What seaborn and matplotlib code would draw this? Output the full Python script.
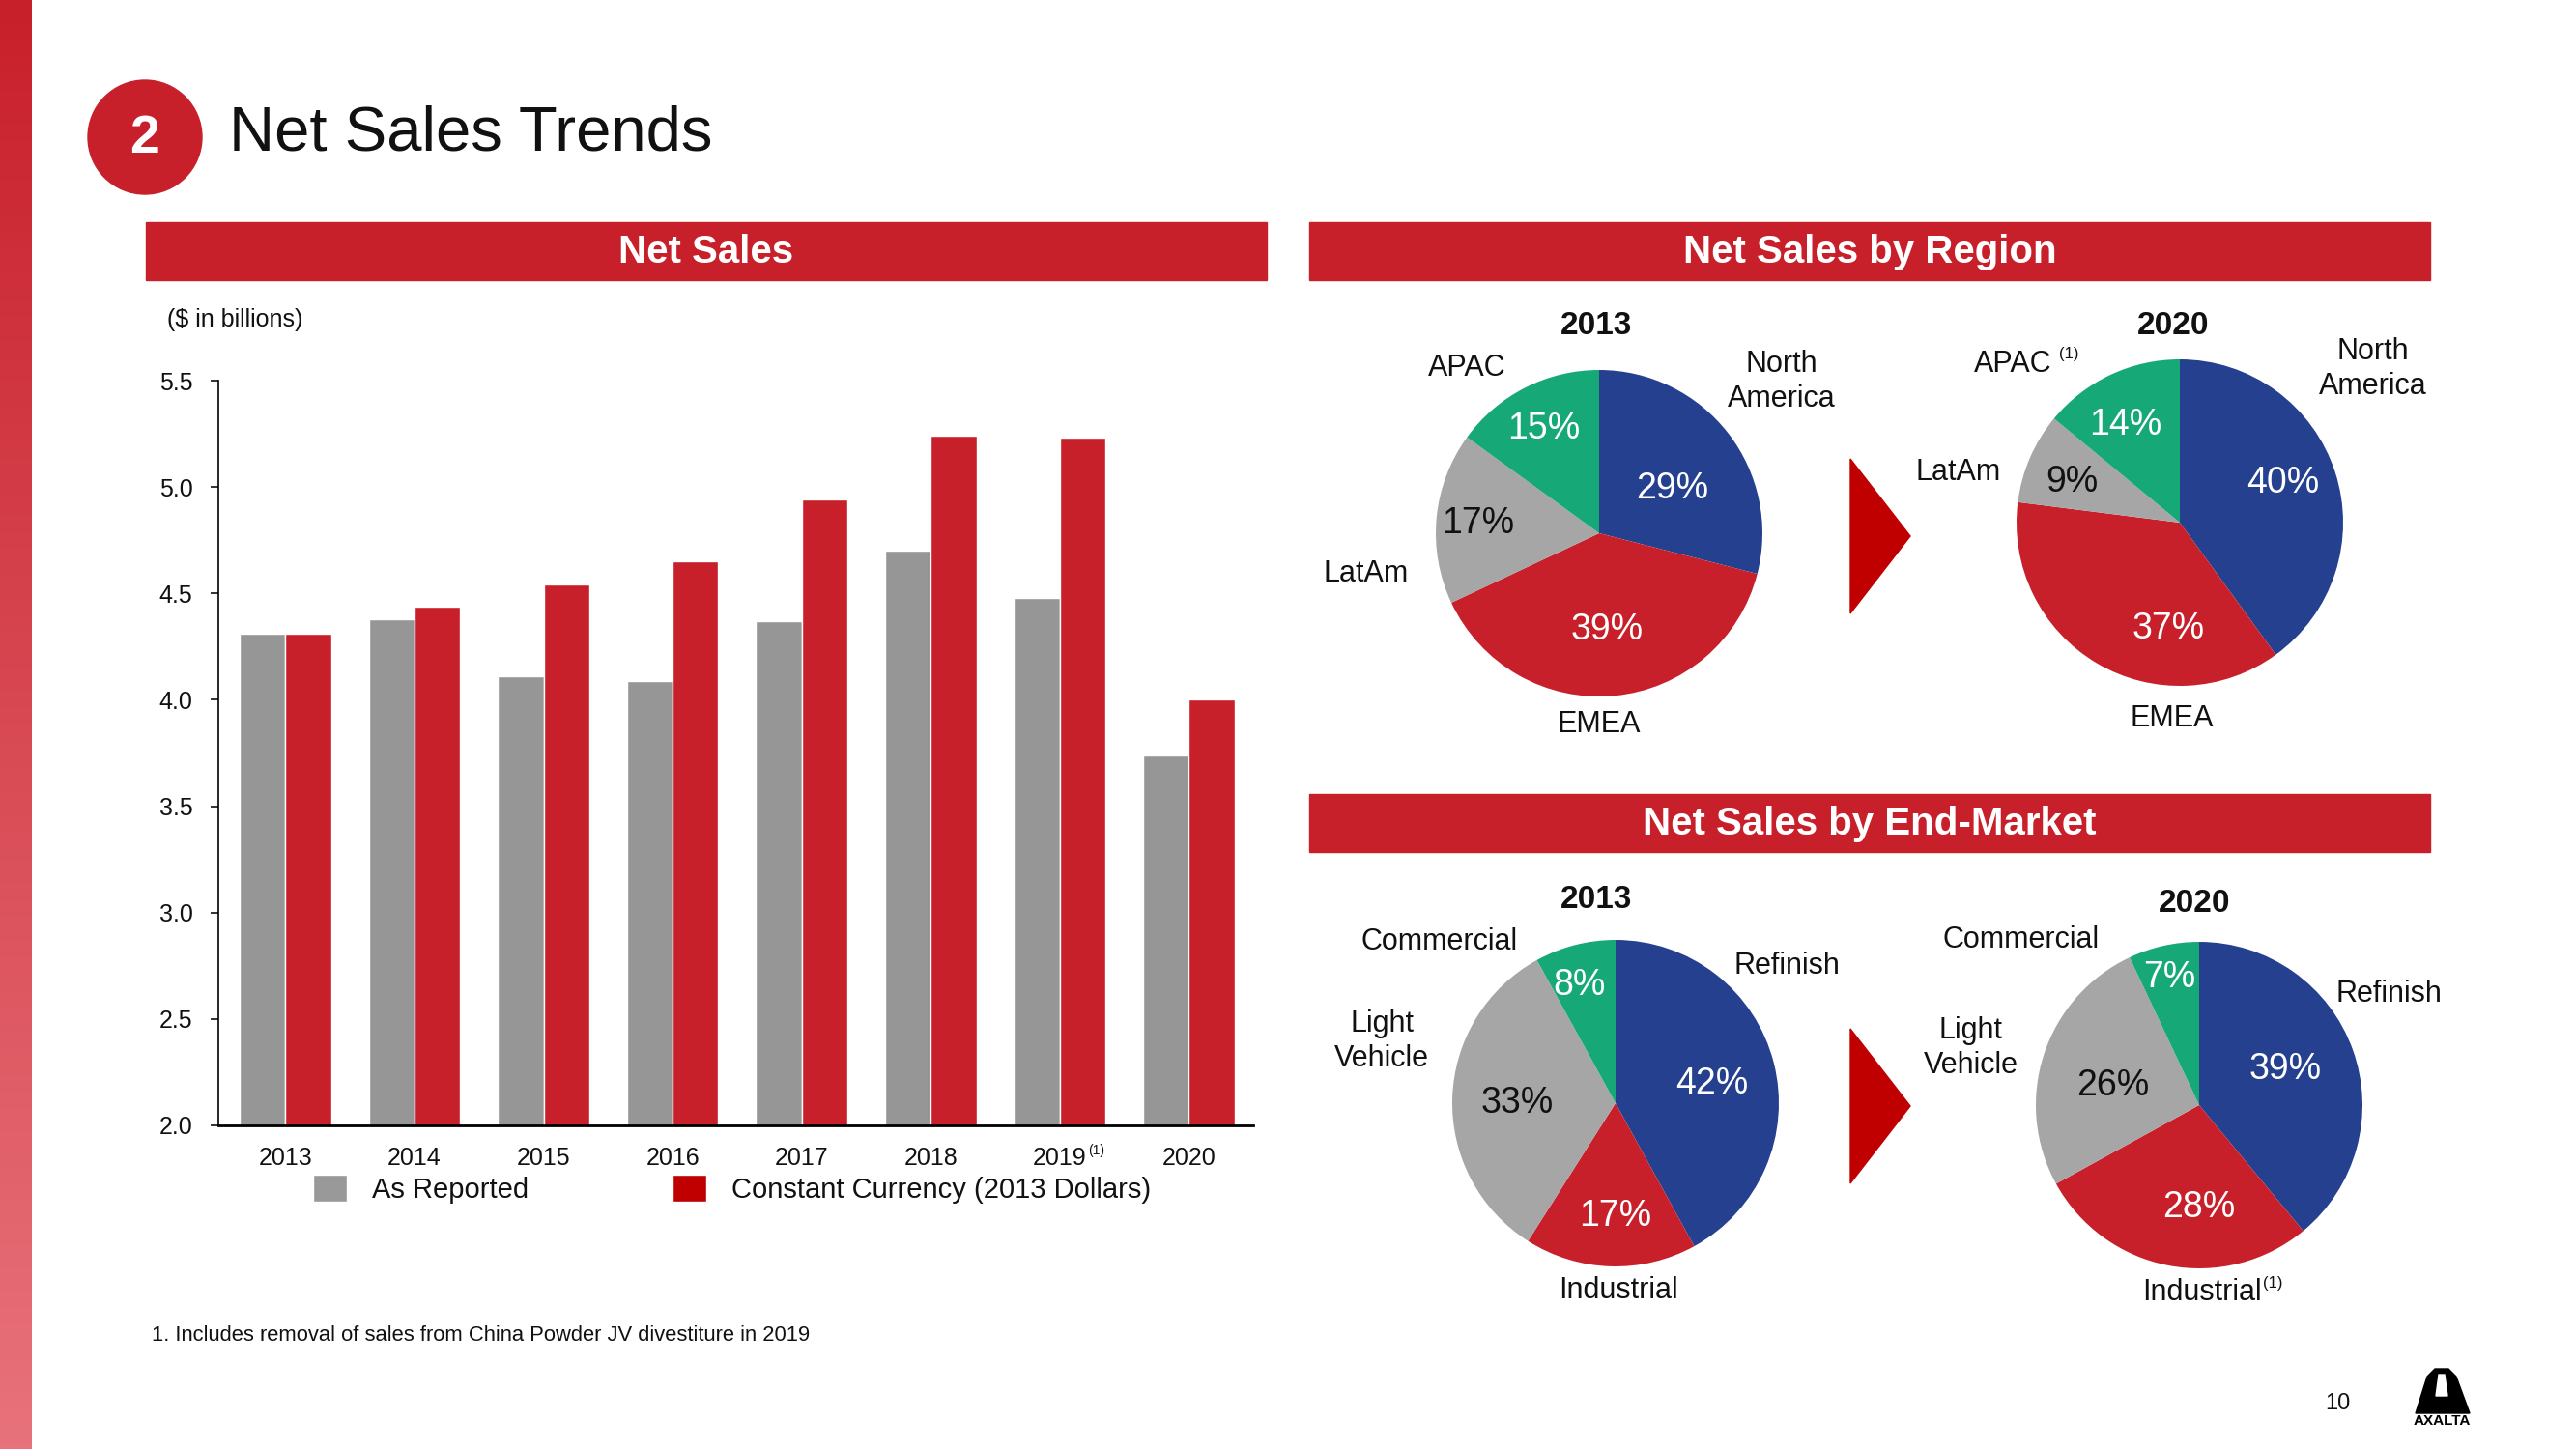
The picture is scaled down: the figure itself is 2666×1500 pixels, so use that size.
import numpy as np
import pandas as pd
import matplotlib
matplotlib.use('Agg')
import matplotlib.pyplot as plt
import seaborn as sns
from matplotlib.patches import Polygon, Circle, Rectangle, Patch
from matplotlib.colors import LinearSegmentedColormap

# ---- data ----
years = ['2013', '2014', '2015', '2016', '2017', '2018', '2019', '2020']
as_reported = [4.31, 4.38, 4.11, 4.09, 4.37, 4.70, 4.48, 3.74]
constant_currency = [4.31, 4.44, 4.54, 4.65, 4.94, 5.24, 5.23, 4.00]
series_names = ['As Reported', 'Constant Currency (2013 Dollars)']

region_names = ['North\nAmerica', 'EMEA', 'LatAm', 'APAC']
region_2013 = [29, 39, 17, 15]
region_2020 = [40, 37, 9, 14]

market_names = ['Refinish', 'Industrial', 'Light\nVehicle', 'Commercial']
market_2013 = [42, 17, 33, 8]
market_2020 = [39, 28, 26, 7]

# ---- style ----
W, H = 2666, 1500
RED = '#C8202A'
DARK_RED = '#C00000'
GRAY = '#969696'
PIE_COLORS = ['#25408F', '#C8202A', '#A6A6A6', '#17A878']
PIE_R = 169

sns.set_theme(style='white')
plt.rcParams['font.family'] = ['Liberation Sans', 'DejaVu Sans']
plt.rcParams['text.color'] = '#111111'

fig = plt.figure(figsize=(W / 100, H / 100), dpi=100)


def px_axes(x0, y0, x1, y1):
    return fig.add_axes([x0 / W, 1 - y1 / H, (x1 - x0) / W, (y1 - y0) / H])


# background layer in pixel coordinates
bg = px_axes(0, 0, W, H)
grad = np.linspace(0, 1, 256).reshape(-1, 1)
stripe_cmap = LinearSegmentedColormap.from_list('stripe', ['#C8202B', '#E8727B'])
bg.imshow(grad, extent=[0, 33, H, 0], aspect='auto', cmap=stripe_cmap)
bg.set_xlim(0, W)
bg.set_ylim(H, 0)
bg.axis('off')

bg.add_patch(Circle((150, 142), 59, color=RED))
bg.text(150, 144, '2', color='white', fontsize=40, fontweight='bold', ha='center', va='center')
bg.text(237, 139, 'Net Sales Trends', fontsize=47, ha='left', va='center')

headers = [((151, 230, 1311, 290), 'Net Sales'),
           ((1355, 230, 2515, 290), 'Net Sales by Region'),
           ((1355, 822, 2515, 882), 'Net Sales by End-Market')]
for (x0, y0, x1, y1), txt in headers:
    bg.add_patch(Rectangle((x0, y0), x1 - x0, y1 - y0, color=RED))
    bg.text((x0 + x1) / 2, (y0 + y1) / 2 + 1, txt, color='white', fontsize=29,
            fontweight='bold', ha='center', va='center')

# arrows between pies
for top in (475, 1065):
    bg.add_patch(Polygon([(1915, top), (1977, top + 80), (1915, top + 160)], color=DARK_RED))

bg.text(173, 331, '($ in billions)', fontsize=18, ha='left', va='center')
bg.text(157, 1383, '1. Includes removal of sales from China Powder JV divestiture in 2019',
        fontsize=15.8, ha='left', va='center')
bg.text(2419, 1453, '10', fontsize=17, ha='center', va='center')

# logo
bg.add_patch(Polygon([(2500, 1463), (2512, 1425), (2520, 1417), (2534, 1417),
                      (2542, 1425), (2556, 1463)], color='black'))
bg.add_patch(Polygon([(2524, 1423), (2530, 1423), (2533, 1445), (2521, 1445)], color='white'))
bg.text(2527, 1471, 'AXALTA', fontsize=11, fontweight='bold', ha='center', va='center', color='black')

# pie year titles
for x, y, t in [(1652, 337, '2013'), (2249, 338, '2020'), (1652, 932, '2013'), (2271, 935, '2020')]:
    bg.text(x, y, t, fontsize=24, fontweight='bold', ha='center', va='center')

# ---- bar chart ----
ax = px_axes(226, 394, 1297, 1165)
df = pd.DataFrame({
    'year': years * 2,
    'sales': as_reported + constant_currency,
    'series': [series_names[0]] * len(years) + [series_names[1]] * len(years),
})
sns.barplot(data=df, x='year', y='sales', hue='series', palette=[GRAY, RED],
            width=0.71, saturation=1, ax=ax, legend=False)
ax.set_xlim(-0.52, 7.5)
ax.set_ylim(2.0, 5.5)
yt = np.arange(2.0, 5.51, 0.5)
ax.set_yticks(yt)
ax.set_yticklabels([f'{v:.1f}' for v in yt])
ax.set_xlabel('')
ax.set_ylabel('')
sns.despine(ax=ax)
ax.spines['left'].set_linewidth(1.2)
ax.spines['bottom'].set_linewidth(2)
ax.spines['left'].set_color('black')
ax.spines['bottom'].set_color('black')
ax.tick_params(axis='y', length=6, width=1.2, direction='out', pad=13, labelsize=18, left=True, colors='#111111')
ax.tick_params(axis='x', length=0, pad=16, labelsize=18, colors='#111111')
fig.canvas.draw()
lbl2019 = ax.get_xticklabels()[years.index('2019')]
ax.annotate('(1)', xy=(1, 1), xycoords=lbl2019, xytext=(1, 2), textcoords='offset points',
            fontsize=10, ha='left', va='top')

handles = [Patch(facecolor='#999999'), Patch(facecolor=DARK_RED)]
fig.legend(handles, series_names, loc='center left', bbox_to_anchor=(324 / W, 1 - 1231 / H),
           ncol=2, frameon=False, fontsize=21, handlelength=1.2, handleheight=1.1,
           handletextpad=0.9, columnspacing=5.1, borderpad=0, borderaxespad=0)


# ---- pies ----
def draw_pie(cx, cy, values, names, pct_pos, name_pos, sup_index=None, sup_gap=4):
    half = 280
    pax = px_axes(cx - half, cy - half, cx + half, cy + half)
    lim = half / PIE_R
    wedges, _, autotexts = pax.pie(values, colors=PIE_COLORS, startangle=90, counterclock=False,
                                   radius=1, autopct=lambda p: f'{p:.0f}%',
                                   wedgeprops=dict(linewidth=0))
    for i, t in enumerate(autotexts):
        t.set_position(pct_pos[i])
        t.set_fontsize(27)
        t.set_color('#111111' if i == 2 else 'white')
        t.set_ha('center')
        t.set_va('center')
    for i, name in enumerate(names):
        t = pax.text(name_pos[i][0], name_pos[i][1], name, fontsize=22, ha='center', va='center',
                     linespacing=1.25)
        if sup_index == i:
            pax.annotate('(1)', xy=(1, 1), xycoords=t, xytext=(sup_gap, 2), textcoords='offset points',
                         fontsize=12, ha='left', va='top')
    pax.set_xlim(-lim, lim)
    pax.set_ylim(-lim, lim)
    pax.set_aspect('equal')
    pax.axis('off')
    return pax


draw_pie(1655, 552, region_2013, region_names,
         [(0.45, 0.27), (0.05, -0.59), (-0.74, 0.06), (-0.34, 0.64)],
         [(1.12, 0.93), (0.0, -1.17), (-1.43, -0.25), (-0.81, 1.01)])
draw_pie(2256, 541, region_2020, region_names,
         [(0.63, 0.24), (-0.07, -0.65), (-0.66, 0.25), (-0.33, 0.60)],
         [(1.18, 0.94), (-0.05, -1.20), (-1.36, 0.31), (-1.02, 0.97)], sup_index=3, sup_gap=5)
draw_pie(1672, 1142, market_2013, market_names,
         [(0.59, 0.12), (0.0, -0.69), (-0.60, 0.0), (-0.22, 0.72)],
         [(1.05, 0.84), (0.02, -1.15), (-1.43, 0.38), (-1.08, 0.99)])
draw_pie(2276, 1144, market_2020, market_names,
         [(0.53, 0.22), (0.0, -0.63), (-0.53, 0.12), (-0.18, 0.78)],
         [(1.16, 0.68), (0.02, -1.15), (-1.40, 0.35), (-1.09, 1.01)], sup_index=1, sup_gap=0.5)

fig.savefig('out.png', dpi=100)
